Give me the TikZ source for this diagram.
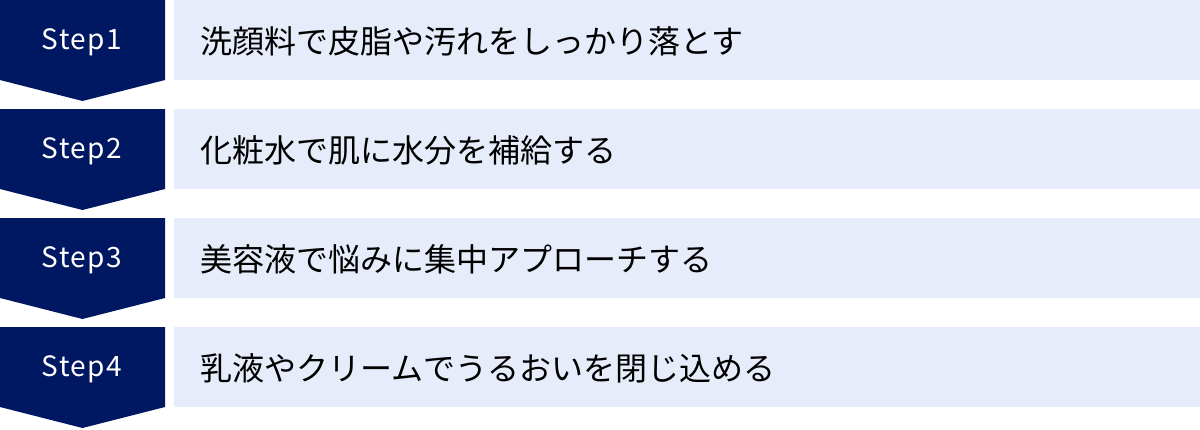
\documentclass[tikz,border=0pt]{standalone}
\usepackage{fontspec}
\newfontfamily\jpfont{Noto Sans CJK JP}
\definecolor{navy}{HTML}{001762}
\definecolor{pale}{HTML}{E6ECF9}
\begin{document}
\begin{tikzpicture}[x=1pt,y=-1pt,
  chevron/.style={fill=navy},
  bar/.style={fill=pale},
  steplabel/.style={text=white,font=\jpfont\fontsize{28}{28}\selectfont,inner sep=0pt,anchor=center},
  bartext/.style={text=black,font=\jpfont\fontsize{32}{32}\selectfont,inner sep=0pt,anchor=west}]
\useasboundingbox (0,0) rectangle (1200,429);
\foreach \i/\t [count=\n from 0] in {1/洗顔料で皮脂や汚れをしっかり落とす,2/化粧水で肌に水分を補給する,3/美容液で悩みに集中アプローチする,4/乳液やクリームでうるおいを閉じ込める}{
  \pgfmathsetmacro{\yy}{\n*109}
  \fill[chevron] (0,\yy) -- (165,\yy) -- (165,\yy+80) -- (82.5,\yy+101) -- (0,\yy+80) -- cycle;
  \fill[bar] (174,\yy) rectangle (1200,\yy+80);
  \node[steplabel] (s\i) at (82,\yy+42) {\addfontfeature{LetterSpace=5}Step\i};
  \node[bartext] (t\i) at (200,\yy+41) {\t};
}
\end{tikzpicture}
\end{document}
